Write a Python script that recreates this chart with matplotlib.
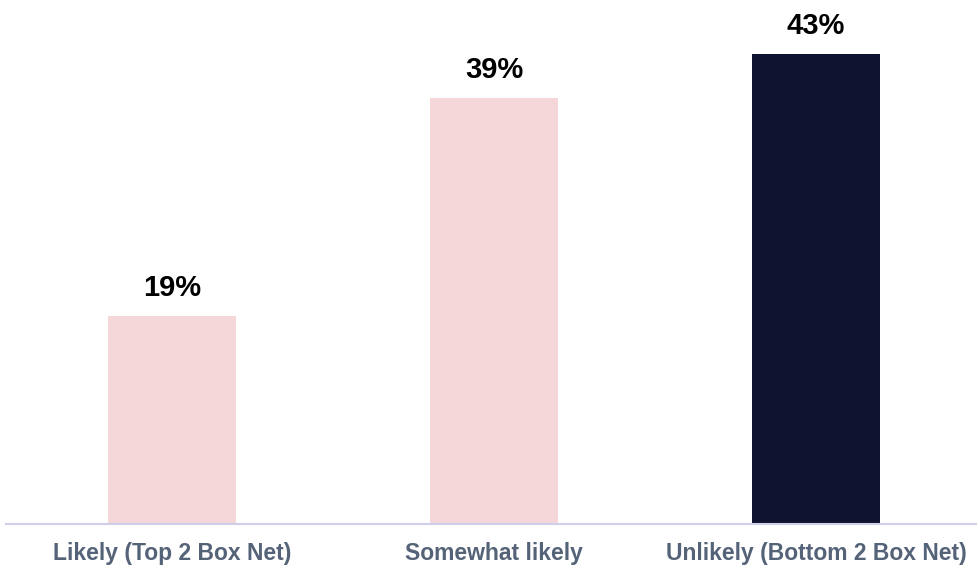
import matplotlib.pyplot as plt

categories = ['Likely (Top 2 Box Net)', 'Somewhat likely', 'Unlikely (Bottom 2 Box Net)']
values = [19, 39, 43]
colors = ['#F5D7DA', '#F5D7DA', '#0F1330']

plt.rcParams['font.family'] = ['Liberation Sans', 'DejaVu Sans']

fig = plt.figure(figsize=(9.77, 5.66), dpi=100)
ax = fig.add_axes([6/977, 1 - 524/566, 971/977, 524/566])

x = range(len(categories))
bars = ax.bar(x, values, width=0.4, color=colors)

# value labels above bars
for b, v in zip(bars, values):
    ax.annotate(f'{v}%', (b.get_x() + b.get_width()/2, v), xytext=(0, 10),
                textcoords='offset points', ha='center', va='bottom',
                fontsize=21, fontweight='bold', color='black')

ax.set_xlim(-0.5155, 2.5)
ax.set_ylim(0, 47.94)
ax.set_xticks(list(x))
ax.set_xticklabels(categories, fontsize=16.5, fontweight='bold', color='#556378')
ax.tick_params(axis='x', length=0, pad=13)
ax.set_yticks([])

for s in ['top', 'right', 'left']:
    ax.spines[s].set_visible(False)
ax.spines['bottom'].set_color('#CFCFEA')
ax.spines['bottom'].set_linewidth(1.5)

fig.savefig('out.png', dpi=100)
